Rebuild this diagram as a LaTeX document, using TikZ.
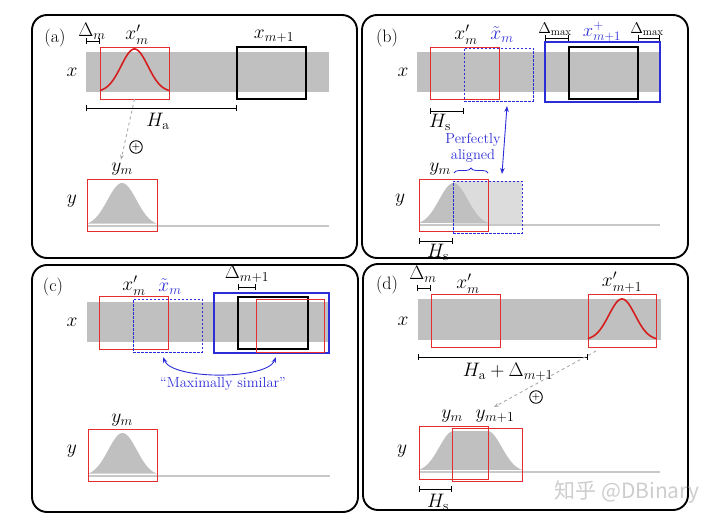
\RequirePackage{fix-cm}
\documentclass[tikz,border=0pt]{standalone}
\usepackage{fontspec}
\newfontfamily\cjk{Noto Sans CJK SC}
\usetikzlibrary{arrows.meta,decorations.pathreplacing,calc}
\definecolor{bandgray}{RGB}{192,192,192}
\definecolor{redc}{RGB}{228,45,45}
\definecolor{redd}{RGB}{215,30,30}
\definecolor{bluec}{RGB}{45,45,215}
\definecolor{lightf}{RGB}{220,220,220}
\definecolor{basegray}{RGB}{200,200,200}
\definecolor{arrgray}{RGB}{170,170,170}
\definecolor{wmgray}{RGB}{205,205,205}
\newcommand{\bx}[6]{\node[#2, minimum width={(#5-#3)*1pt}, minimum height={(#6-#4)*1pt}] (#1) at ({(#3+#5)/2},{(#4+#6)/2}) {};}
\newcommand{\gfill}[4]{\fill[bandgray] plot[domain=0:1,samples=60,variable=\t] ({#1+(#2-#1)*\t},{#3-(#3-#4)*exp(-((\t-0.5)*(\t-0.5)/0.085))}) -- cycle;}
\newcommand{\gcurve}[4]{\draw[rcurve] plot[domain=0:1,samples=60,variable=\t] ({#1+(#2-#1)*\t},{#3-(#3-#4)*exp(-((\t-0.5)*(\t-0.5)/0.075))});}
\begin{document}
\begin{tikzpicture}[x=1pt,y=-1pt,
  frame/.style={draw=black, line width=1.9pt, rounded corners=15pt},
  band/.style={fill=bandgray},
  bxbase/.style={rectangle, inner sep=0pt, outer sep=0pt},
  rbox/.style={bxbase, draw=redc, line width=0.9pt},
  kbox/.style={bxbase, draw=black, line width=1.2pt},
  bbox/.style={bxbase, draw=bluec, line width=1.2pt},
  dbox/.style={bxbase, draw=bluec, line width=0.9pt, dash pattern=on 2.5pt off 1.5pt},
  rcurve/.style={draw=redd, line width=1.6pt},
  lbl/.style={inner sep=0pt, font=\fontsize{19.5}{22}\selectfont},
  lbls/.style={inner sep=0pt, font=\fontsize{15.5}{18}\selectfont},
  plab/.style={inner sep=0pt, font=\fontsize{18}{20}\selectfont},
  btxt/.style={inner sep=0pt, text=bluec, font=\fontsize{14.5}{16.5}\selectfont, align=center},
  brk/.style={line width=0.8pt, {Bar[width=6pt]}-{Bar[width=6pt]}},
  basel/.style={draw=basegray, line width=1.6pt},
  darr/.style={draw=arrgray, line width=0.9pt, dashed, -{Stealth[length=5pt,width=4pt]}},
  barr/.style={draw=bluec, line width=0.9pt, {Stealth[length=6pt,width=4.5pt]}-{Stealth[length=6pt,width=4.5pt]}},
  oplus/.style={circle, draw=black, line width=0.9pt, inner sep=0.6pt, font=\fontsize{9}{9}\selectfont\bfseries}
]
\useasboundingbox (0,0) rectangle (720,524);

% ================= Panel (a)
\draw[frame] (32,15) rectangle (357,258);
\node[plab] (pa) at (55,38) {(a)};
\fill[band] (86,52) rectangle (329,92);
\bx{axm}{rbox}{100}{47}{169}{99}
\gcurve{100}{169}{92}{49}
\bx{axn}{kbox}{237}{47}{306}{99}
\node[lbl] (adl) at (92,31) {$\Delta_m$};
\node[lbl] (axml) at (137,35) {$x'_m$};
\node[lbl] (axnl) at (274,36) {$x_{m+1}$};
\node[lbl] (axlab) at (72,72) {$x$};
\coordinate (ad0) at (86,41); \coordinate (ad1) at (100,41);
\draw[brk] (ad0) -- (ad1);
\coordinate (ah0) at (86,108); \coordinate (ah1) at (237,108);
\draw[brk] (ah0) -- (ah1);
\node[lbl] (ahl) at (158,121) {$H_\mathrm{a}$};
\node[lbl] (ayml) at (122,169) {$y_m$};
\draw[darr] (axm.south) -- ($(ayml.north)+(-1,-3)$);
\node[oplus] (aop) at (136,147) {+};
\gfill{87}{157}{226}{183}
\draw[basel] (87,226) -- (329,226);
\bx{aym}{rbox}{87}{179}{157}{231}
\node[lbl] (aylab) at (72,201) {$y$};

% ================= Panel (b)
\draw[frame] (362,15) rectangle (688,258);
\node[plab] (pb) at (387,38) {(b)};
\fill[band] (417,52) rectangle (659,92);
\bx{bxm}{rbox}{430}{47}{499}{99}
\bx{bxt}{dbox}{464}{48}{533}{101}
\bx{bxp}{bbox}{545}{42}{660}{102}
\bx{bxn}{kbox}{569}{47}{638}{99}
\node[lbl] (bxml) at (466,35) {$x'_m$};
\node[lbl, text=bluec] (bxtl) at (502,35) {$\tilde{x}_m$};
\node[lbls] (bdl1) at (555,29) {$\Delta_{\max}$};
\node[lbl, text=bluec, font=\fontsize{18.5}{21}\selectfont] (bxpl) at (602,32) {$x^{+}_{m+1}$};
\node[lbls] (bdl2) at (647,29) {$\Delta_{\max}$};
\coordinate (bd0) at (545,38); \coordinate (bd1) at (569,38);
\draw[brk] (bd0) -- (bd1);
\coordinate (bd2) at (638,38); \coordinate (bd3) at (660,38);
\draw[brk] (bd2) -- (bd3);
\node[lbl] (bxlab) at (403,72) {$x$};
\coordinate (bh0) at (430,111); \coordinate (bh1) at (464,111);
\draw[brk] (bh0) -- (bh1);
\node[lbl] (bhl) at (440,122) {$H_\mathrm{s}$};
\node[btxt] (bpa) at (473,148) {Perfectly\\aligned};
\coordinate (ba0) at (507,106); \coordinate (ba1) at (502,174);
\draw[barr] (ba0) -- (ba1);
\coordinate (bb0) at (454,173); \coordinate (bb1) at (488,173);
\draw[draw=bluec, line width=0.8pt, decorate, decoration={brace, amplitude=5pt}] (bb0) -- (bb1);
\node[lbl] (byml) at (440,169) {$y_m$};
\fill[lightf] (453,181) rectangle (522,225);
\gfill{419}{488}{225}{183}
\draw[basel] (419,225) -- (660,225);
\bx{bym}{rbox}{419}{179}{488}{231}
\bx{byt}{dbox}{453}{181}{522}{233}
\node[lbl] (bylab) at (400,200) {$y$};
\coordinate (bh2) at (419,241); \coordinate (bh3) at (453,241);
\draw[brk] (bh2) -- (bh3);
\node[lbl] (bhl2) at (438,252) {$H_\mathrm{s}$};

% ================= Panel (c)
\draw[frame] (32,265) rectangle (358,512);
\node[plab] (pc) at (53,287) {(c)};
\fill[band] (87,302) rectangle (329,342);
\bx{cxm}{rbox}{99}{296}{168}{349}
\bx{cxt}{dbox}{133}{299}{202}{352}
\bx{cxp}{bbox}{214}{293}{329}{353}
\bx{cxn}{kbox}{238}{297}{308}{349}
\bx{cxr}{rbox}{256}{299}{324}{352}
\node[lbl] (cxml) at (134,286) {$x'_m$};
\node[lbl, text=bluec] (cxtl) at (170,287) {$\tilde{x}_m$};
\node[lbl] (cdl) at (247,274) {$\Delta_{m+1}$};
\coordinate (cd0) at (238,287); \coordinate (cd1) at (256,287);
\draw[brk] (cd0) -- (cd1);
\node[lbl] (cxlab) at (72,322) {$x$};
\coordinate (cc0) at (163,357); \coordinate (cc1) at (276,357);
\draw[barr] (cc0) .. controls (172,380) and (267,380) .. (cc1);
\node[btxt] (cms) at (223,384) {``Maximally similar''};
\node[lbl] (cyml) at (122,420) {$y_m$};
\gfill{88}{157}{476}{433}
\draw[basel] (88,476) -- (330,476);
\bx{cym}{rbox}{88}{429}{157}{481}
\node[lbl] (cylab) at (72,451) {$y$};

% ================= Panel (d)
\draw[frame] (363,264) rectangle (688,510);
\node[plab] (pd) at (387,285) {(d)};
\fill[band] (418,299) rectangle (661,340);
\bx{dxm}{rbox}{431}{294}{500}{347}
\bx{dxn}{rbox}{588}{294}{656}{347}
\gcurve{588}{656}{340}{299}
\node[lbl] (ddl) at (423,274) {$\Delta_m$};
\coordinate (dd0) at (417,288); \coordinate (dd1) at (431,288);
\draw[brk] (dd0) -- (dd1);
\node[lbl] (dxml) at (468,284) {$x'_m$};
\node[lbl] (dxnl) at (622,282) {$x'_{m+1}$};
\node[lbl] (dxlab) at (403,321) {$x$};
\coordinate (dh0) at (418,357); \coordinate (dh1) at (588,357);
\draw[brk] (dh0) -- (dh1);
\node[lbl] (dhl) at (508,372) {$H_\mathrm{a}+\Delta_{m+1}$};
\coordinate (da0) at (596,351); \coordinate (da1) at (494,407);
\draw[darr] (da0) -- (da1);
\node[oplus] (dop) at (536,397) {+};
\node[lbl] (dyml) at (452,416) {$y_m$};
\node[lbl] (dynl) at (495,416) {$y_{m+1}$};
\fill[bandgray] plot[domain=0:0.5,samples=40,variable=\t] ({419+69*\t},{472-41*exp(-((\t-0.5)*(\t-0.5)/0.085))})
  -- plot[domain=0.5:1,samples=40,variable=\t] ({453+69*\t},{472-41*exp(-((\t-0.5)*(\t-0.5)/0.085))}) -- cycle;
\draw[basel] (419,472) -- (660,472);
\bx{dym}{rbox}{419}{426}{488}{479}
\bx{dyn}{rbox}{452}{428}{522}{481}
\node[lbl] (dylab) at (402,451) {$y$};
\coordinate (dh2) at (419,489); \coordinate (dh3) at (452,489);
\draw[brk] (dh2) -- (dh3);
\node[lbl] (dhl2) at (438,502) {$H_\mathrm{s}$};
\node[inner sep=0pt, text=wmgray, font=\cjk\fontsize{21}{24}\selectfont] (wm) at (627,492) {知乎 @DBinary};
\end{tikzpicture}
\end{document}
